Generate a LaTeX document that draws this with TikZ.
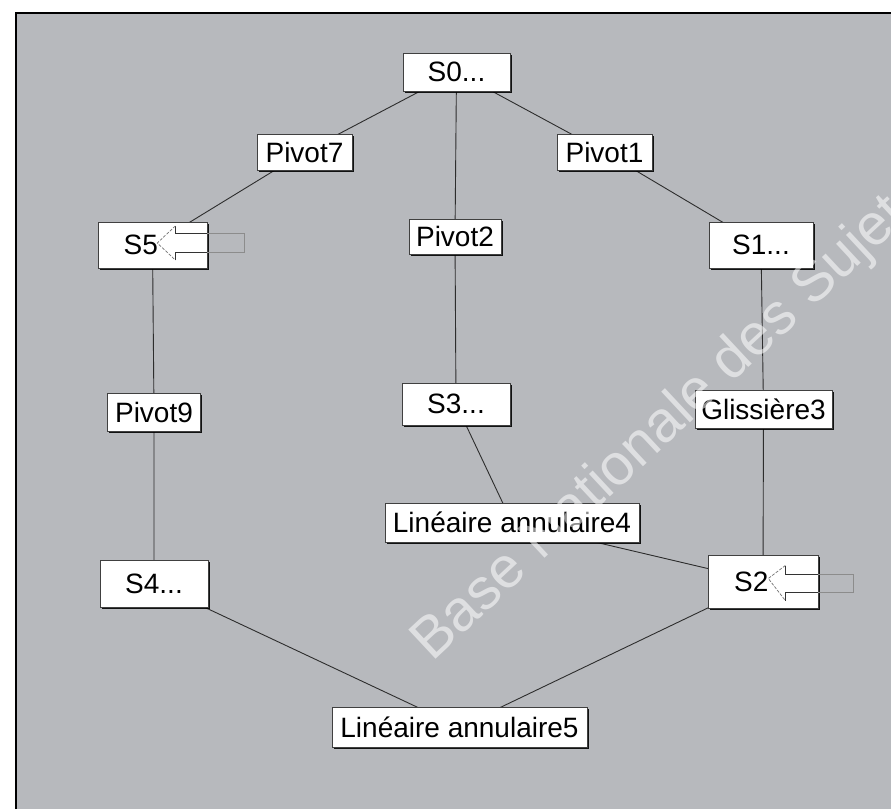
\documentclass[tikz,border=0pt]{standalone}
\usepackage{fontspec}
\setmainfont{Liberation Sans}
\usetikzlibrary{shadows}
\pgfdeclarelayer{bg}
\pgfdeclarelayer{edges}
\pgfdeclarelayer{fg}
\pgfsetlayers{bg,edges,main,fg}
\definecolor{panel}{RGB}{183,185,189}
\definecolor{wirec}{RGB}{45,45,45}
\tikzset{
  box/.style={draw=black!75, line width=0.6pt, fill=white, inner sep=0pt,
    font=\fontsize{28}{30}\selectfont,
    drop shadow={shadow xshift=1.6pt, shadow yshift=-1.6pt, fill=black, opacity=0.9}},
  wire/.style={draw=wirec, line width=0.9pt},
  arrowline/.style={draw=black!80, line width=0.8pt, line join=miter},
  arrowhead/.style={draw=black!55, line width=0.7pt, dash pattern=on 3pt off 1.5pt},
  faint/.style={draw=black!45, line width=0.7pt},
  wmark/.style={text=white, opacity=0.55, font=\fontsize{58}{60}\selectfont}
}
\begin{document}
\begin{tikzpicture}[x=1pt,y=-1pt]
\useasboundingbox (0,0) rectangle (891,809);
\begin{pgfonlayer}{bg}
  \fill[white] (0,0) rectangle (891,809);
  \fill[panel] (16,13) rectangle (891,809);
  \draw[black, line width=2pt] (16,809) -- (16,13) -- (891,13);
\end{pgfonlayer}

\node[box, minimum width=107pt, minimum height=38pt] (s0) at (456.5,72) {S0...};
\node[box, minimum width=95pt, minimum height=36pt] (p7) at (304.5,152) {Pivot7};
\node[box, minimum width=95pt, minimum height=36pt] (p1) at (604.5,152) {Pivot1};
\node[box, minimum width=109pt, minimum height=46pt] (s5) at (152.5,245) {S5\phantom{...}};
\node[box, minimum width=92pt, minimum height=35pt] (p2) at (455,236.5) {Pivot2};
\node[box, minimum width=104pt, minimum height=46pt] (s1) at (761,245) {S1...};
\node[box, minimum width=93pt, minimum height=38pt] (p9) at (154,412) {Pivot9};
\node[box, minimum width=108pt, minimum height=42pt] (s3) at (456,404) {S3...};
\node[box, minimum width=137pt, minimum height=38pt] (gl) at (763.5,409) {Glissière3};
\node[box, minimum width=254pt, minimum height=39pt] (la4) at (512,522.5) {Linéaire annulaire4};
\node[box, minimum width=108pt, minimum height=47pt] (s4) at (154,583.5) {S4...};
\node[box, minimum width=110pt, minimum height=53pt] (s2) at (763,581.5) {S2\phantom{...}};
\node[box, minimum width=255pt, minimum height=40pt] (la5) at (459.5,727) {Linéaire annulaire5};

\begin{pgfonlayer}{edges}
  \draw[wire] (s0.center) -- (p7.center) -- (s5.center);
  \draw[wire] (s0.center) -- (p1.center) -- (s1.center);
  \draw[wire] (s0.center) -- (p2.center) -- (s3.center);
  \draw[wire] (s5.center) -- (p9.center) -- (s4.center);
  \draw[wire] (s1.center) -- (gl.center) -- (s2.center);
  \draw[wire] (s3.center) -- (la4.center) -- (s2.center);
  \draw[wire] (s4.center) -- (la5.center) -- (s2.center);
\end{pgfonlayer}

% hollow arrows
\begin{scope}[shift={(s5.east)}]
  \draw[arrowline] (0,-12) -- (-32,-12) -- (-32,-19);
  \draw[arrowline] (0,7) -- (-32,7) -- (-32,15);
  \draw[arrowhead] (-32,-19) -- (-50,-2) -- (-32,15);
  \draw[faint] (0,-12) -- (37,-12) -- (37,7) -- (0,7);
\end{scope}
\begin{scope}[shift={(s2.east)}]
  \draw[arrowline] (0,-7) -- (-33,-7) -- (-33,-16);
  \draw[arrowline] (0,11) -- (-33,11) -- (-33,19);
  \draw[arrowhead] (-33,-16) -- (-50,-3) -- (-33,19);
  \draw[faint] (0,-7) -- (35,-7) -- (35,11) -- (0,11);
\end{scope}

\begin{pgfonlayer}{fg}
  \clip (16,13) rectangle (891,809);
  \node[wmark, rotate=43, anchor=base west] (wm) at (430,665) {Base Nationale des Sujets};
\end{pgfonlayer}
\end{tikzpicture}
\end{document}
